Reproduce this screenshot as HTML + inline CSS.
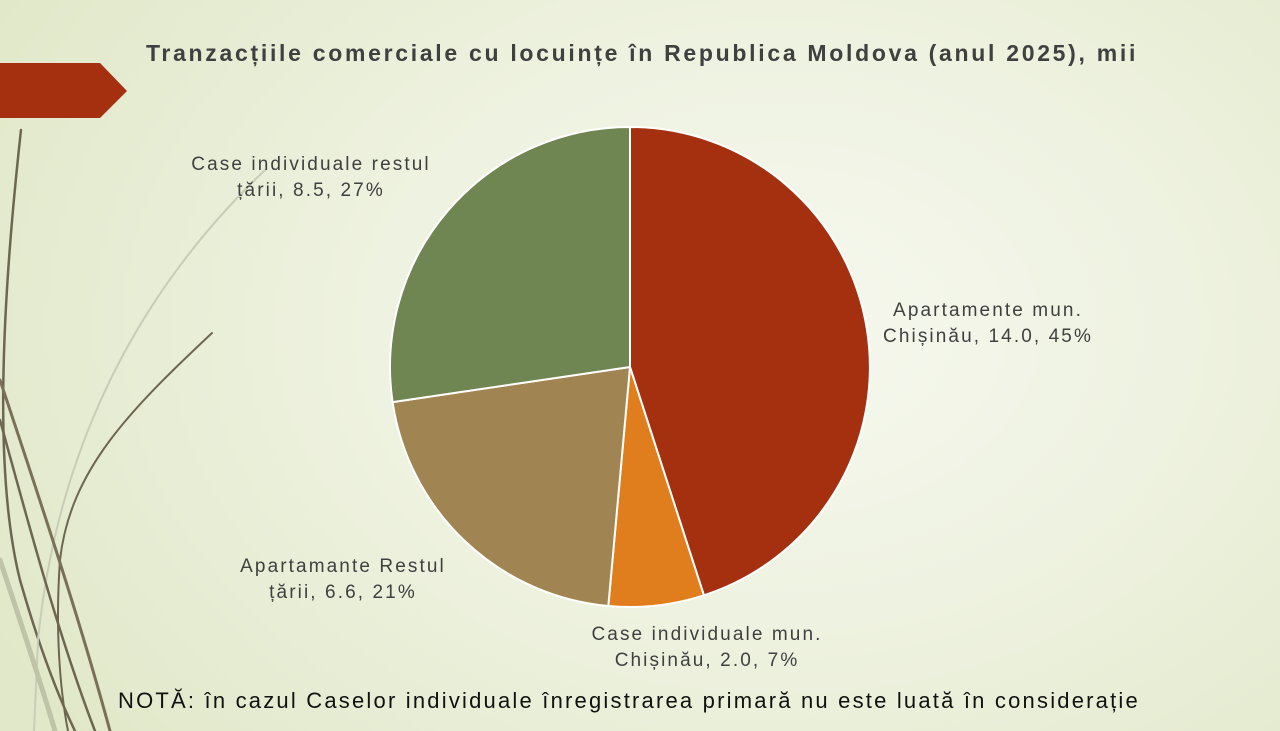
<!DOCTYPE html>
<html><head><meta charset="utf-8"><style>
html,body{margin:0;padding:0}
body{width:1280px;height:731px;overflow:hidden;position:relative;font-family:"Liberation Sans","DejaVu Sans",sans-serif;
background:radial-gradient(ellipse 900px 650px at 780px 330px,#f6f8ef 0%,#eef2e0 45%,#e1e8c9 100%);}
.t{position:absolute;color:#404040;font-size:19px;line-height:26px;text-align:center;white-space:nowrap;letter-spacing:2.1px}
</style></head><body>
<svg width="1280" height="731" style="position:absolute;left:0;top:0">
<polygon points="0,63 100,63 127,91 100,118 0,118" fill="#a5300f"/>
<g fill="none" stroke-linecap="round">
<path d="M21,130 C0,320 -5,480 20,580 C40,650 60,700 75,731" stroke="#6e6650" stroke-width="2.5"/>
<path d="M265,170 C160,270 60,420 38,640 L34,731" stroke="#c9ccb6" stroke-width="2"/>
<path d="M212,333 C130,410 70,470 60,560 C55,630 60,690 68,731" stroke="#6e6650" stroke-width="2"/>
<path d="M0,380 C40,500 80,620 110,731" stroke="#7a7058" stroke-width="3"/>
<path d="M0,420 C30,530 60,640 95,731" stroke="#6e6650" stroke-width="2.5"/>
<path d="M0,560 C20,620 40,680 55,731" stroke="#bfc3a8" stroke-width="5"/>
</g>
<g stroke="#fff" stroke-width="2" stroke-linejoin="round">
<path d="M630,367 L630,127 A240,240 0 0 1 703.9,595.3 Z" fill="#a5300f"/>
<path d="M630,367 L703.9,595.3 A240,240 0 0 1 608.3,606 Z" fill="#e07d1c"/>
<path d="M630,367 L608.3,606 A240,240 0 0 1 392.6,402.1 Z" fill="#a08452"/>
<path d="M630,367 L392.6,402.1 A240,240 0 0 1 630,127 Z" fill="#6f8552"/>
</g>
</svg>
<div class="t" style="left:0;width:1280px;top:40px;font-weight:bold;font-size:23px;letter-spacing:2.7px;color:#404040;left:2px">Tranzacțiile comerciale cu locuințe în Republica Moldova (anul 2025), mii</div>
<div class="t" style="left:161px;width:300px;top:152px">Case individuale restul<br>țării, 8.5, 27%</div>
<div class="t" style="left:838px;width:300px;top:298px">Apartamente mun.<br>Chișinău, 14.0, 45%</div>
<div class="t" style="left:193px;width:300px;top:554px">Apartamante Restul<br>țării, 6.6, 21%</div>
<div class="t" style="left:557px;width:300px;top:622px">Case individuale mun.<br>Chișinău, 2.0, 7%</div>
<div class="t" style="left:118px;top:688px;font-size:22px;letter-spacing:2.2px;color:#111;text-align:left">NOTĂ: în cazul Caselor individuale înregistrarea primară nu este luată în considerație</div>
</body></html>
